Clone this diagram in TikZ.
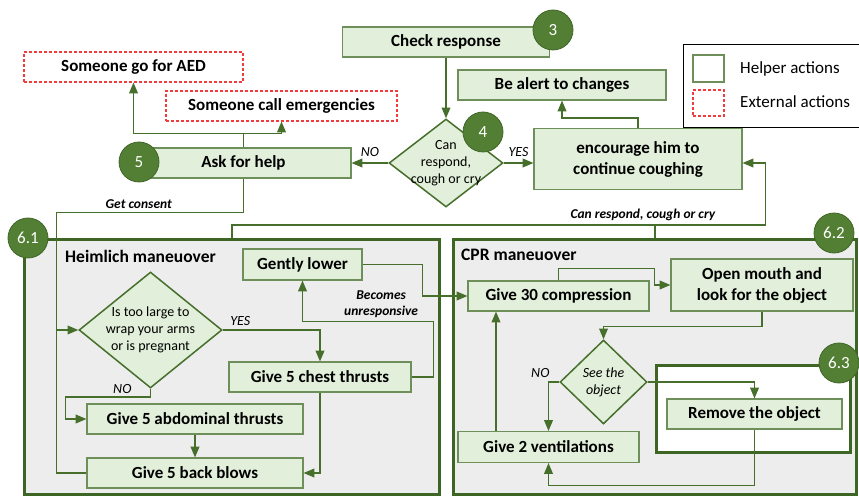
\documentclass[tikz,border=0pt]{standalone}
\usepackage{fontspec}
\setmainfont{Carlito}
\usepackage{tikz}
\usetikzlibrary{arrows,shapes.geometric}

\definecolor{boxfill}{HTML}{E2EFDA}
\definecolor{boxline}{HTML}{6F8F5A}
\definecolor{flowline}{HTML}{466F2C}
\definecolor{badgefill}{HTML}{527F33}
\definecolor{framefill}{HTML}{EDEDED}
\definecolor{frameline}{HTML}{3D6523}
\definecolor{extline}{HTML}{F03C3C}

\tikzset{
  helper/.style={draw=boxline, fill=boxfill, line width=1.2pt, inner sep=0pt,
    align=center, font=\fontsize{17}{21}\selectfont\bfseries},
  external/.style={draw=extline, dash pattern=on 3pt off 2pt, line width=1.2pt, fill=white, inner sep=0pt,
    font=\fontsize{17}{21}\selectfont\bfseries},
  decision/.style={diamond, draw=flowline, fill=boxfill, line width=1.5pt, inner sep=0pt},
  decision text/.style={align=center, inner sep=0pt, font=\fontsize{14}{17}\selectfont},
  badge/.style={circle, fill=badgefill, draw=badgefill!80!black, line width=0.8pt,
    minimum size=40pt, inner sep=0pt, text=white, font=\fontsize{17}{17}\selectfont},
  stage/.style={draw=frameline, fill=framefill, line width=3pt, inner sep=0pt},
  stage title/.style={anchor=west, inner sep=0pt, font=\fontsize{17.5}{19}\selectfont\bfseries},
  flow/.style={draw=flowline, line width=1.5pt, ->, >=triangle 45},
  edgelabel/.style={font=\fontsize{14}{16}\selectfont\itshape, text=black},
  notelabel/.style={font=\fontsize{13.5}{16}\selectfont\bfseries\itshape, text=black, align=center},
  keytext/.style={anchor=west, inner sep=0pt, font=\fontsize{17}{19}\selectfont}
}

\begin{document}
\begin{tikzpicture}[x=1pt,y=-1pt]
\useasboundingbox[fill=white] (0,0) rectangle (859,497);

\node[stage, minimum width=415pt, minimum height=255pt] (heim) at (232,367) {};
\node[stage, minimum width=403pt, minimum height=255pt] (cpr) at (655,367) {};
\node[stage title] (heimtitle) at (65,256) {Heimlich maneuover};
\node[stage title] (cprtitle) at (461,255) {CPR maneuover};

\node[helper, minimum width=207pt, minimum height=30pt] (check) at (446,42) {Check response};
\node[external, minimum width=219pt, minimum height=30pt] (aed) at (133.5,67) {Someone go for AED};
\node[external, minimum width=231pt, minimum height=30pt] (emerg) at (281.5,106) {Someone call emergencies};
\node[helper, minimum width=215pt, minimum height=30pt] (ask) at (243.5,163) {Ask for help};
\node[decision, minimum width=114pt, minimum height=88pt,
  label={[decision text]center:{Can\\respond,\\cough or cry}}] (can) at (446,163) {};
\node[helper, minimum width=208pt, minimum height=61pt] (enc) at (638,159) {encourage him to\\continue coughing};
\node[helper, minimum width=208pt, minimum height=30pt] (alert) at (562,85) {Be alert to changes};

\node[helper, minimum width=119pt, minimum height=31pt] (gently) at (302.5,264.5) {Gently lower};
\node[decision, minimum width=143pt, minimum height=116pt,
  label={[decision text]center:{Is too large to\\wrap your arms\\or is pregnant}}] (large) at (150.5,330) {};
\node[helper, minimum width=182pt, minimum height=30pt] (chest) at (320,377) {Give 5 chest thrusts};
\node[helper, minimum width=216pt, minimum height=30pt] (abdo) at (195,419) {Give 5 abdominal thrusts};
\node[helper, minimum width=216pt, minimum height=30pt] (blows) at (195,473) {Give 5 back blows};

\node[helper, minimum width=181pt, minimum height=30pt] (comp) at (558.5,296) {Give 30 compression};
\node[helper, minimum width=182pt, minimum height=52pt] (mouth) at (762,285) {Open mouth and\\look for the object};
\node[decision, minimum width=87pt, minimum height=84pt,
  label={[decision text, font=\fontsize{14}{17}\selectfont\itshape]center:{See the\\object}}] (see) at (603.5,382) {};
\node[stage, fill=white, minimum width=194pt, minimum height=87pt] (objframe) at (753.5,409) {};
\node[helper, minimum width=175pt, minimum height=30pt] (remove) at (754.5,414) {Remove the object};
\node[helper, minimum width=181pt, minimum height=31pt] (vent) at (548.5,447) {Give 2 ventilations};

\node[draw=black, line width=0.9pt, fill=white, minimum width=190pt, minimum height=83pt] (legend) at (778,85.5) {};
\node[draw=boxline, line width=1.2pt, minimum width=31pt, minimum height=27pt] (keyhelper) at (708.5,68.5) {};
\node[draw=extline, dash pattern=on 3pt off 2pt, line width=1.2pt, minimum width=31pt, minimum height=26pt] (keyext) at (708.5,103) {};
\node[keytext] (keyhelpertext) at (740,69) {Helper actions};
\node[keytext] (keyexttext) at (740,102) {External actions};

\draw[flow] (check.south) -- (can.north);
\draw[flow] (can.west) -- node[edgelabel, above, yshift=2pt] (nohelp) {NO} (ask.east);
\draw[flow] (can.east) -- node[edgelabel, above, yshift=2pt] (yescough) {YES} (can.east -| enc.west);
\draw[flow] (enc.north) -- ++(0,-10) -| (alert.south);
\draw[flow] (ask.north) -- ++(0,-14) coordinate (helpsplit) -| (aed.south);
\draw[flow] (helpsplit) -| (emerg.south);

\draw[flow] (blows.west) -- ++(-30,0) coordinate (loopcorner) |- (large.west);
\draw[flow, -] (ask.south) -- ++(0,34) -| node[notelabel, pos=0.28, above] (consent) {Get consent} (loopcorner |- large.west);
\draw[flow] (heim.north) -- ++(0,-13) -| node[notelabel, pos=0.385, above] (stillok) {Can respond, cough or cry}
  ([xshift=23pt]enc.east |- can.east) -- (enc.east |- can.east);
\draw[flow, -] (cpr.north) -- ++(0,-13);

\draw[flow] (large.east) -| node[edgelabel, pos=0.09, above] (yeslarge) {YES} (chest.north);
\draw[flow] (large.south) -- node[edgelabel, at start, left=15pt] (nolarge) {NO} ++(0,8) -| ([xshift=-21pt]abdo.west) -- (abdo.west);
\draw[flow] (abdo) -- (blows);
\draw[flow] (chest.south) |- (blows.east);
\draw[flow] (chest.east) -- ++(22,0) |- node[notelabel, pos=0.7, above] (unresp) {Becomes\\unresponsive}
  ([yshift=-41pt]gently.south) -- (gently.south);
\draw[flow] (gently.east) -- ++(60,0) |- (comp.west);

\draw[flow] (comp.north) -- ++(0,-12) -| ([xshift=-16pt]mouth.west) -- (mouth.west);
\draw[flow] (mouth.south) -- ++(0,15) -| (see.north);
\draw[flow] (see.west) -| node[edgelabel, pos=0.5, above left, xshift=5pt] (noobject) {NO} (vent.north);
\draw[flow] (see.east) -| (remove.north);
\draw[flow] (remove.south) -- ++(0,56) -| (vent.south);
\draw[flow] ([xshift=-52.5pt]vent.north) -- ([xshift=-52.5pt]vent.north |- comp.south);

\node[badge] (n3) at (553,30) {3};
\node[badge] (n4) at (483,132) {4};
\node[badge] (n5) at (139,162) {5};
\node[badge] (n61) at (28,238) {6.1};
\node[badge] (n62) at (834,233) {6.2};
\node[badge] (n63) at (839,363) {6.3};
\end{tikzpicture}
\end{document}
